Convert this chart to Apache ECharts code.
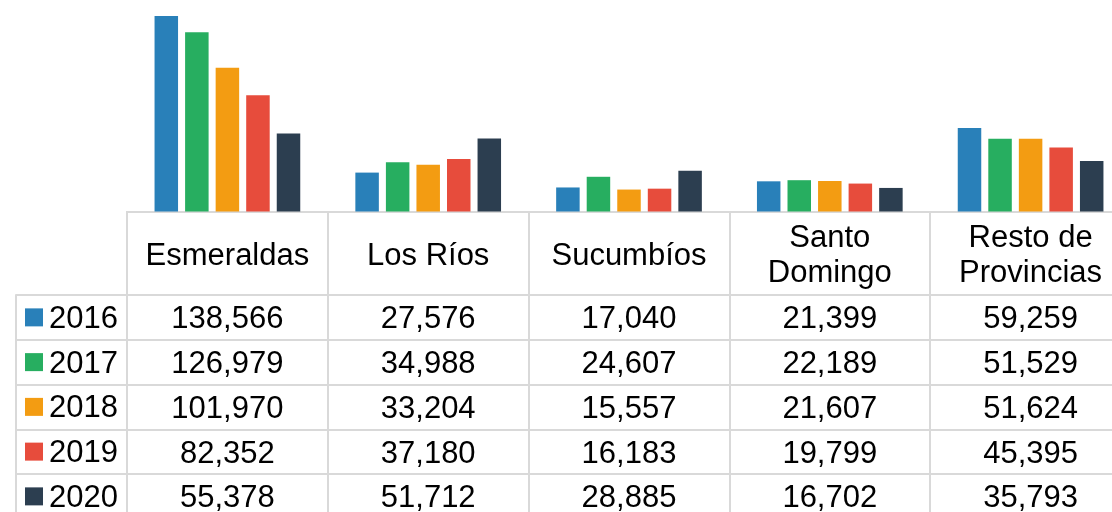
<!DOCTYPE html>
<html>
<head>
<meta charset="utf-8">
<script src="https://cdn.jsdelivr.net/npm/echarts@6/dist/echarts.min.js"></script>
<style>html,body{margin:0;padding:0;background:#fff;}#c{width:1112px;height:512px;}</style>
</head>
<body>
<div id="c"></div>
<script>
const categories = ['Esmeraldas', 'Los Ríos', 'Sucumbíos', 'Santo\nDomingo', 'Resto de\nProvincias'];
const years = ['2016', '2017', '2018', '2019', '2020'];
const v2016 = [138566, 27576, 17040, 21399, 59259];
const v2017 = [126979, 34988, 24607, 22189, 51529];
const v2018 = [101970, 33204, 15557, 21607, 51624];
const v2019 = [82352, 37180, 16183, 19799, 45395];
const v2020 = [55378, 51712, 28885, 16702, 35793];
const colors = ['#2980b9', '#27ae60', '#f39c12', '#e74c3c', '#2c3e50'];

const seriesValues = [v2016, v2017, v2018, v2019, v2020];
const FONT = 'Liberation Sans, Arial, sans-serif';
const FS = 31;
const LINE = '#d9d9d9';
const fmt = v => String(v).replace(/\B(?=(\d{3})+(?!\d))/g, ',');

const tableData = [];
seriesValues.forEach((arr, yi) => arr.forEach((v, ci) => tableData.push([ci, yi, v])));

const rich = { t: { fontFamily: FONT, fontSize: FS, color: '#000', padding: [4, 0, 0, 6] } };
colors.forEach((c, i) => { rich['s' + i] = { backgroundColor: c, width: 18, height: 18 }; });

const chart = echarts.init(document.getElementById('c'));
chart.setOption({
  animation: false,
  backgroundColor: '#fff',
  grid: [
    { left: 127, top: 14, width: 1004, height: 197.5, outerBoundsMode: 'none', containLabel: false },
    { left: 127, top: 295, width: 1004, height: 223.75, outerBoundsMode: 'none', containLabel: false },
    { left: 16, top: 295, width: 111, height: 223.75, outerBoundsMode: 'none', containLabel: false }
  ],
  xAxis: [
    { gridIndex: 0, type: 'category', data: categories,
      axisLine: { show: true, lineStyle: { color: LINE, width: 2 } },
      axisTick: { show: false }, axisLabel: { show: false }, splitLine: { show: false } },
    { gridIndex: 1, type: 'category', data: categories, position: 'top',
      axisLine: { show: false },
      axisTick: { show: true, length: 84, lineStyle: { color: LINE, width: 2 } },
      axisLabel: { show: true, margin: 39, verticalAlign: 'middle', align: 'center',
        fontFamily: FONT, fontSize: FS, color: '#000', lineHeight: 35, interval: 0,
        hideOverlap: false },
      splitLine: { show: true, lineStyle: { color: LINE, width: 2 } } },
    { gridIndex: 2, type: 'value', show: false }
  ],
  yAxis: [
    { gridIndex: 0, type: 'value', min: 0, max: 140000, show: false },
    { gridIndex: 1, type: 'category', data: years, inverse: true,
      axisLine: { show: false }, axisTick: { show: false }, axisLabel: { show: false },
      splitLine: { show: true, lineStyle: { color: LINE, width: 2 } } },
    { gridIndex: 2, type: 'category', data: years, inverse: true,
      axisLine: { show: true, lineStyle: { color: LINE, width: 2 } },
      axisTick: { show: false },
      axisLabel: { show: true, inside: true, margin: 9, align: 'left', verticalAlign: 'middle',
        formatter: (val, idx) => '{s' + idx + '|}{t|' + val + '}', rich: rich },
      splitLine: { show: true, lineStyle: { color: LINE, width: 2 } } }
  ],
  series: years.map((y, i) => ({
    name: y, type: 'bar', xAxisIndex: 0, yAxisIndex: 0,
    data: seriesValues[i], barWidth: 23.5, barGap: '30%',
    itemStyle: { color: colors[i] }
  })).concat([{
    type: 'custom', xAxisIndex: 1, yAxisIndex: 1, data: tableData,
    encode: { x: 0, y: 1 },
    renderItem: (params, api) => {
      const p = api.coord([api.value(0), api.value(1)]);
      return { type: 'text', x: p[0], y: p[1] + 2.5,
        style: { text: fmt(api.value(2)), fontFamily: FONT, fontSize: FS, fill: '#000',
          align: 'center', verticalAlign: 'middle' } };
    }
  }])
});
</script>
</body>
</html>
